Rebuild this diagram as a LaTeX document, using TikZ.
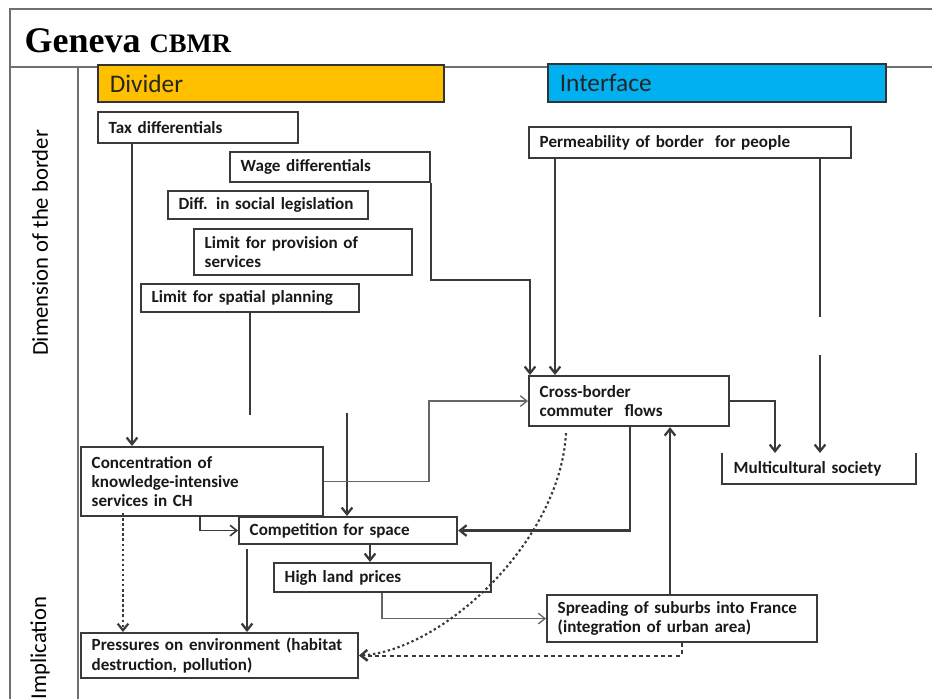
\documentclass[tikz,border=0pt]{standalone}
\usepackage{fontspec}
\setmainfont{Carlito}
\newfontfamily\titlefont{Liberation Serif}
\usepackage{tikz}
\usetikzlibrary{positioning,calc,arrows.meta}

\definecolor{divorange}{RGB}{255,192,0}
\definecolor{intblue}{RGB}{0,176,240}
\definecolor{linegray}{RGB}{58,58,58}
\definecolor{framegray}{RGB}{112,112,112}
\newcommand\cbfont{\bfseries\fontsize{12.8}{14.5}\selectfont}

\tikzset{
  frame/.style={draw=framegray, line width=1.5pt},
  box/.style={draw=linegray, line width=1.6pt, fill=white, anchor=north west,
    inner xsep=8pt, inner ysep=2pt, align=left, text=black!90, font=\cbfont},
  head/.style={draw=black!80, line width=1.2pt, anchor=north west,
    inner xsep=9pt, inner ysep=0pt, align=left, text=black!85,
    font=\fontsize{19}{22}\selectfont},
  conn/.style={draw=linegray, line width=1.7pt},
  arr/.style={conn, -{Straight Barb[length=5pt,width=8pt]}},
  thinarr/.style={arr, line width=1pt, draw=black!60},
  dotarr/.style={arr, line width=1.6pt, dash pattern=on 1.8pt off 2pt},
  dasharr/.style={arr, line width=1.4pt, dash pattern=on 3pt off 2.5pt},
}

\begin{document}
\begin{tikzpicture}[x=0.75pt,y=0.75pt,yscale=-1,xscale=1]
\useasboundingbox (0,0) rectangle (932,699);

%Frame lines
\draw[frame] (932,9) -- (10,9) -- (10,699);
\draw[frame] (10,67) -- (932,67);
\draw[frame] (78,67) -- (78,699);

% Text Node
\node[anchor=base west, font=\titlefont\bfseries\fontsize{27}{30}\selectfont] (title) at (20,53) {Geneva {\fontsize{20}{22}\selectfont CBMR}};
\node[rotate=90, font=\fontsize{17}{20}\selectfont] (dim) at (40,243) {Dimension of the border};
\node[rotate=90, font=\fontsize{17}{20}\selectfont] (impl) at (40,648) {Implication};

%Headers
\node[head, fill=divorange, text width=241.5pt, minimum height=27.75pt] (divider) at (97,64) {Divider};
\node[head, fill=intblue, text width=235.5pt, minimum height=28.5pt] (interface) at (547,63) {Interface};

%Boxes
\node[box, text width=134pt, minimum height=23.25pt] (tax) at (97,111) {Tax differentials};
\node[box, text width=134pt, minimum height=22.5pt] (wage) at (229,151) {Wage differentials};
\node[box, text width=134pt, minimum height=21pt] (social) at (167,190) {Diff. in social legislation};
\node[box, text width=147.5pt, minimum height=34.5pt] (services) at (193,228) {Limit for provision of\\services};
\node[box, text width=147.5pt, minimum height=21pt] (spatial) at (140,283) {Limit for spatial planning};
\node[box, text width=225.5pt, minimum height=23.25pt] (perm) at (528,126) {Permeability of border~ for people};
\node[box, text width=134pt, minimum height=37.5pt] (cross) at (528,375) {Cross-border\\commuter~ flows};
\node[box, draw=none, text width=128pt, minimum height=21.75pt] (multi) at (722,453) {Multicultural society};
\node[box, text width=165.5pt, minimum height=51.75pt] (conc) at (80,446) {Concentration of\\knowledge-intensive\\services in CH};
\node[box, text width=147.5pt, minimum height=20.25pt] (comp) at (238,516) {Competition for space};
\node[box, text width=146.75pt, minimum height=21.75pt] (land) at (273,562) {High land prices};
\node[box, text width=186.5pt, minimum height=35.25pt] (spread) at (546,594) {Spreading of suburbs into France\\(integration of urban area)};
\node[box, text width=191.75pt, minimum height=33.75pt] (press) at (80,632) {Pressures on environment (habitat\\destruction, pollution)};

%open box
\draw[conn] (multi.north west) -- (multi.south west) -- (multi.south east) -- (multi.north east);

%Straight Lines
\coordinate (a1) at ($(tax.south west)+(35,0)$);
\draw[arr] (a1) -- (a1 |- conc.north);

\draw[arr] (wage.south east) -- ++(0,97) -| ($(cross.north west)+(2,0)$);

\coordinate (p1) at ($(perm.south west)+(27,0)$);
\draw[arr] (p1) -- (p1 |- cross.north);

\coordinate (p2) at ($(perm.south west)+(292,0)$);
\draw[conn] (p2) -- ++(0,158);
\draw[arr] ($(p2)+(0,196)$) -- (p2 |- multi.north);

\coordinate (s1) at ($(spatial.south west)+(110,0)$);
\draw[conn] (s1) -- ++(0,102);
\coordinate (s2) at ($(comp.north west)+(109,-103)$);
\draw[arr] (s2) -- (s2 |- comp.north);

\draw[thinarr] (conc.east) -- ++(105,0) |- (cross.west);

\draw[arr] (cross.east) -| ($(multi.north west)+(53,0)$);

\draw[arr] ($(cross.south west)+(102,0)$) |- (comp.east);

\draw[arr, line width=1.2pt] ($(conc.south west)+(120,0)$) |- (comp.west);

\coordinate (c1) at ($(comp.south west)+(132,0)$);
\draw[arr] (c1) -- (c1 |- land.north);

\coordinate (c2) at ($(comp.south west)+(9,4)$);
\draw[arr] (c2) -- (c2 |- press.north);

\coordinate (c3) at ($(conc.south west)+(43,-4)$);
\draw[dotarr] (c3) -- (c3 |- press.north);

\draw[thinarr] ($(land.south west)+(109,0)$) |- (spread.west);

\coordinate (s3) at ($(spread.north west)+(124,0)$);
\draw[arr] (s3) -- (s3 |- cross.south);

\draw[dasharr] ($(spread.south west)+(136,0)$) |- (press.east);

%Curve Lines
\draw[dotarr] ($(cross.south west)+(38,6)$) .. controls +(-6,109) and +(83,-5) .. (press.east);

\end{tikzpicture}
\end{document}
